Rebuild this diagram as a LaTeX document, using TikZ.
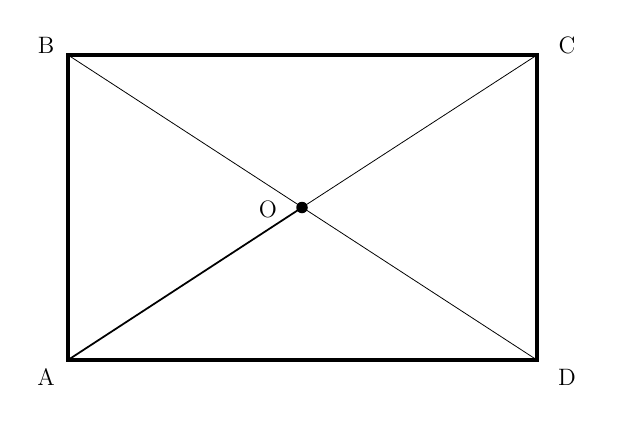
\documentclass[tikz,border=0pt]{standalone}
\usepackage{tikz}
\usetikzlibrary{positioning}

\begin{document}
\begin{tikzpicture}[x=0.02cm, y=-0.02cm, every node/.style={font=\fontsize{13.5}{16}\selectfont}]

                \useasboundingbox (0,0) rectangle (629,423);

                % Corners
                \coordinate (A) at (68,360);
                \coordinate (B) at (68,55);
                \coordinate (C) at (537,55);
                \coordinate (D) at (537,360);
                \coordinate (O) at (302,207.5);

                % Labels
                \node at (46,377) (labA) {A};
                \node at (46,45) (labB) {B};
                \node at (567,45) (labC) {C};
                \node at (567,377) (labD) {D};
                \node at (268,209) (labO) {O};

                % Lines
                \draw[line width=1.9pt] (A) -- (B) -- (C) -- (D) -- cycle;
                \draw[line width=0.45pt] (B) -- (D);
                \draw[line width=0.45pt] (O) -- (C);
                \draw[line width=1pt] (A) -- (O);
                \fill (O) circle (0.115cm);

\end{tikzpicture}
\end{document}
